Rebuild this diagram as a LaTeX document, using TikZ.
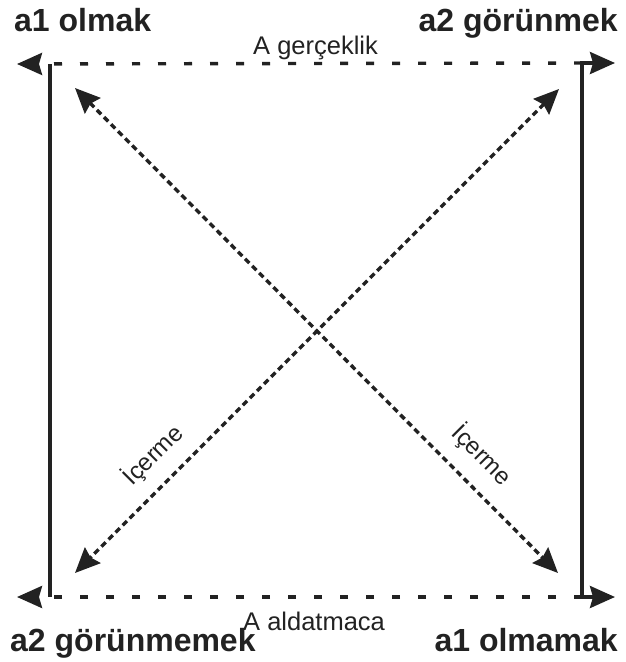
\documentclass[tikz,border=0pt]{standalone}
\usepackage{fontspec}
\setmainfont{Liberation Sans}
\usetikzlibrary{arrows.meta}
\definecolor{ink}{HTML}{222222}
\tikzset{
  tip/.tip={Stealth[length=25pt,width=22pt,inset=3pt]},
  solidline/.style={draw=ink,line width=3.4pt},
  hdash/.style={draw=ink,line width=3.4pt,dash pattern=on 8pt off 18pt},
  ddash/.style={draw=ink,line width=3.4pt,dash pattern=on 6pt off 4pt},
  corner/.style={font=\fontsize{32}{32}\selectfont\bfseries,text=ink,inner sep=0pt},
  edgelab/.style={font=\fontsize{25.5}{25.5}\selectfont,text=ink,inner sep=0pt},
  icerme/.style={font=\fontsize{24}{24}\selectfont,text=ink,inner sep=0pt},
}
\begin{document}
\begin{tikzpicture}[x=1pt,y=-1pt]
\useasboundingbox (0,0) rectangle (625,662);
% corners
\coordinate (tl) at (50,64);
\coordinate (bl) at (50,597);
\coordinate (tr) at (582,63);
\coordinate (br) at (582,597);
\coordinate (tlarrow) at (17,64);
\coordinate (blarrow) at (17,597);
\coordinate (trtip) at (615,63);
\coordinate (brtip) at (615,597);
\coordinate (d1a) at (75,88);
\coordinate (d1b) at (558,573);
\coordinate (d2a) at (559,89);
\coordinate (d2b) at (75,573);
% lines
\draw[solidline] (tl) -- (bl);
\draw[solidline,{tip}-{tip}] (trtip) -- (tr) -- (br) -- (brtip);
\draw[hdash,-{tip[fill=ink]}] (tr) -- (tlarrow);
\draw[hdash,-{tip[fill=ink]}] (br) -- (blarrow);
\draw[ddash,{tip}-{tip}] (d1a) -- (d1b);
\draw[ddash,{tip}-{tip}] (d2a) -- (d2b);
% labels
\node[corner,anchor=base west] (a1olmak) at (14,31) {a1 olmak};
\node[corner,anchor=base east] (a2gorunmek) at (618,31) {a2 görünmek};
\node[corner,anchor=base west] (a2gorunmemek) at (10,651) {a2 görünmemek};
\node[corner,anchor=base east] (a1olmamak) at (618,651) {a1 olmamak};
\node[edgelab,anchor=base west] (gerceklik) at (253,54) {A gerçeklik};
\node[edgelab,anchor=base west] (aldatmaca) at (243,630) {A aldatmaca};
\node[icerme,rotate=45] (icer1) at (153,455) {İçerme};
\node[icerme,rotate=-45] (icer2) at (482,455) {İçerme};
\end{tikzpicture}
\end{document}
